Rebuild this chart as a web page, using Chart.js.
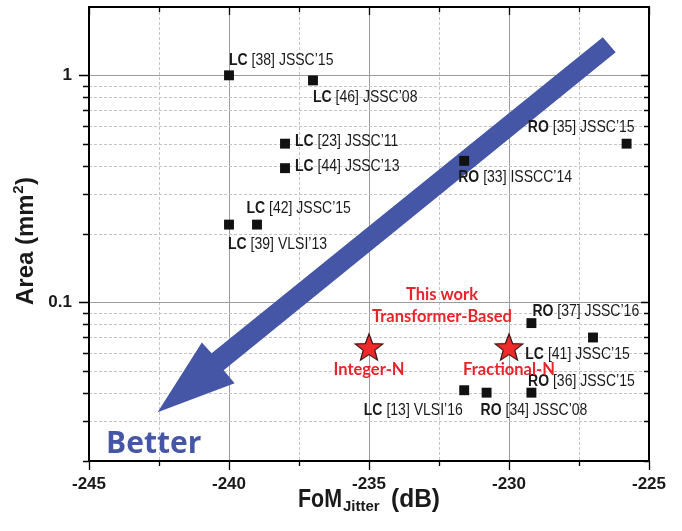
<!DOCTYPE html>
<html><head><meta charset="utf-8">
<script src="https://cdn.jsdelivr.net/npm/chart.js@4.4.1/dist/chart.umd.min.js"></script>
<style>html,body{margin:0;padding:0;background:#fff;}#wrap{width:682px;height:531px;position:relative;}</style>
</head><body><div id="wrap"><canvas id="c" width="682" height="531"></canvas></div>
<script>
// ---------- data ----------
const refTech = ['LC','LC','LC','LC','RO','RO','LC','LC','RO','LC','LC','RO','RO'];
const refCite = ["[38] JSSC\u201915","[46] JSSC\u201908","[23] JSSC\u201911","[44] JSSC\u201913","[33] ISSCC\u201914","[35] JSSC\u201915","[42] JSSC\u201915","[39] VLSI\u201913","[37] JSSC\u201916","[41] JSSC\u201915","[13] VLSI\u201916","[34] JSSC\u201908","[36] JSSC\u201915"];
const refFoM  = [-240, -237, -238, -238, -231.6, -225.8, -239, -240, -229.2, -227, -231.6, -230.8, -229.2];
const refArea = [1.0, 0.95, 0.5, 0.39, 0.42, 0.5, 0.22, 0.22, 0.081, 0.07, 0.041, 0.040, 0.040];
const workLabels = ['Integer-N', 'Fractional-N'];
const workFoM  = [-235, -230];
const workArea = [0.063, 0.063];
const workTitle = ['This work', 'Transformer-Based'];
const xTickLabels = [-245, -240, -235, -230, -225];
const yTickLabels = [0.1, 1];
// "Better" arrow outline, in data units (FoM, area)
const arrowFoM  = [-242.55, -240.97, -240.62, -226.65, -226.19, -240.19, -239.80];
const arrowArea = [0.0328, 0.0666, 0.0596, 1.47, 1.263, 0.0502, 0.0440];

// ---------- styles / placement (pixels) ----------
const labelPlace = [
  [0,-15,'left'],[0,17,'left'],[10,-2,'left'],[10,-2,'left'],[-6,17,'left'],[8,-16,'right'],
  [-10.6,-16,'left'],[-1,20,'left'],[1,-12,'left'],[-67.7,16.6,'left'],[-1.4,20,'right'],[-6,18,'left'],[-3.4,-11.7,'left']
];
const FONT = "'Liberation Sans', Arial, sans-serif";
const RED = '#e8242b';
const BLUE = '#4656a6';

function starImage(){
  const c = document.createElement('canvas');
  c.width = 32; c.height = 32;
  const g = c.getContext('2d');
  const cx = 16, cy = 16.5, R = 14.5, r = 6.1;
  g.beginPath();
  for (let i = 0; i < 10; i++){
    const ang = -Math.PI/2 + i*Math.PI/5;
    const rad = i%2 ? r : R;
    const px = cx + rad*Math.cos(ang), py = cy + rad*Math.sin(ang);
    i ? g.lineTo(px,py) : g.moveTo(px,py);
  }
  g.closePath();
  g.fillStyle = '#ee2a2a'; g.fill();
  g.lineWidth = 1.2; g.strokeStyle = '#3a1515'; g.stroke();
  return c;
}

function isMajorLog(v){ return Math.abs(Math.log10(v) - Math.round(Math.log10(v))) < 1e-6; }
// keep only 1..9 x 10^n ticks strictly inside the axis range
function logGridValues(y){
  return y.ticks.map(t => t.value).filter(v => {
    if (v <= y.min*1.0001 || v >= y.max*0.9999) return false;
    const e = Math.floor(Math.log10(v) + 1e-9);
    const s = v / Math.pow(10, e);
    return Math.abs(s - Math.round(s)) < 1e-6 && v <= 1.0001;
  });
}

function drawNarrowLabel(ctx, x, y, bold, rest, align){
  const size = 16.5, sx = 0.85;
  ctx.save();
  ctx.textBaseline = 'middle';
  ctx.fillStyle = '#1a1a1a';
  ctx.font = `bold ${size}px ${FONT}`;
  const wb = ctx.measureText(bold + ' ').width;
  ctx.font = `${size}px ${FONT}`;
  const wr = ctx.measureText(rest).width;
  const total = (wb + wr) * sx;
  const x0 = align === 'right' ? x - total : x;
  ctx.translate(x0, y);
  ctx.scale(sx, 1);
  ctx.textAlign = 'left';
  ctx.font = `bold ${size}px ${FONT}`;
  ctx.fillText(bold, 0, 0);
  ctx.font = `${size}px ${FONT}`;
  ctx.fillText(rest, wb, 0);
  ctx.restore();
}

const deco = {
  id: 'deco',
  beforeDatasetsDraw(chart){
    const {ctx, chartArea: a, scales: {x, y}} = chart;
    ctx.save();
    // vertical grid
    for (let v = x.min + 2.5; v < x.max - 1e-9; v += 2.5){
      const px = Math.round(x.getPixelForValue(v)) + 0.5;
      const major = Math.abs(v/5 - Math.round(v/5)) < 1e-9;
      ctx.beginPath();
      ctx.setLineDash(major ? [] : [3,2]);
      ctx.strokeStyle = major ? '#9c9c9c' : '#c4c4c4';
      ctx.lineWidth = 1;
      ctx.moveTo(px, a.top); ctx.lineTo(px, a.bottom); ctx.stroke();
    }
    // horizontal grid
    logGridValues(y).forEach(v => {
      const py = Math.round(y.getPixelForValue(v)) + 0.5;
      const major = isMajorLog(v);
      ctx.beginPath();
      ctx.setLineDash(major ? [] : [3,2]);
      ctx.strokeStyle = major ? '#9c9c9c' : '#c4c4c4';
      ctx.lineWidth = 1;
      ctx.moveTo(a.left, py); ctx.lineTo(a.right, py); ctx.stroke();
    });
    ctx.setLineDash([]);
    // arrow
    ctx.beginPath();
    arrowFoM.forEach((f, i) => {
      const px = x.getPixelForValue(f), py = y.getPixelForValue(arrowArea[i]);
      i ? ctx.lineTo(px, py) : ctx.moveTo(px, py);
    });
    ctx.closePath();
    ctx.fillStyle = BLUE;
    ctx.fill();
    ctx.restore();
  },
  afterDatasetsDraw(chart){
    const {ctx, chartArea: a, scales: {x, y}} = chart;
    ctx.save();
    // reference labels
    const meta = chart.getDatasetMeta(0);
    meta.data.forEach((pt, i) => {
      const [dx, dy, al] = labelPlace[i];
      drawNarrowLabel(ctx, pt.x + dx, pt.y + dy, refTech[i], refCite[i], al);
    });
    // this work labels
    const m2 = chart.getDatasetMeta(1);
    ctx.fillStyle = RED;
    ctx.textAlign = 'center';
    ctx.textBaseline = 'middle';
    ctx.font = `bold 16.5px Lato, 'Open Sans', sans-serif`;
    m2.data.forEach((pt, i) => {
      ctx.fillText(workLabels[i], pt.x, pt.y + 22);
    });
    const midX = (m2.data[0].x + m2.data[1].x) / 2 + 3;
    const topY = m2.data[0].y;
    ctx.fillText(workTitle[0], midX, topY - 53);
    ctx.fillText(workTitle[1], midX, topY - 31);
    // Better
    ctx.fillStyle = BLUE;
    ctx.textAlign = 'left';
    ctx.textBaseline = 'alphabetic';
    ctx.font = `bold 30px 'Open Sans', Lato, sans-serif`;
    ctx.fillText('Better', a.left + 17, a.bottom - 8);
    // frame
    ctx.strokeStyle = '#000';
    ctx.lineWidth = 2;
    ctx.strokeRect(a.left, a.top, a.right - a.left, a.bottom - a.top);
    ctx.lineWidth = 1.3;
    ctx.beginPath();
    for (let v = x.min; v <= x.max + 1e-9; v += 2.5){
      const px = Math.round(x.getPixelForValue(v)) + 0.5;
      const major = Math.abs(v/5 - Math.round(v/5)) < 1e-9;
      const L = major ? 9 : 5;
      ctx.moveTo(px, a.bottom); ctx.lineTo(px, a.bottom + L);
      ctx.moveTo(px, a.top); ctx.lineTo(px, a.top + (major ? 8 : 5));
    }
    [y.min].concat(logGridValues(y)).forEach(v => {
      const py = Math.round(y.getPixelForValue(v)) + 0.5;
      const major = isMajorLog(v);
      ctx.moveTo(a.left, py); ctx.lineTo(a.left - (major ? 10 : 6), py);
      ctx.moveTo(a.right, py); ctx.lineTo(a.right - (major ? 8 : 5), py);
    });
    ctx.stroke();
    ctx.restore();
  },
  afterDraw(chart){
    const {ctx, chartArea: a} = chart;
    ctx.save();
    ctx.fillStyle = '#1a1a1a';
    ctx.textBaseline = 'alphabetic';
    ctx.textAlign = 'left';
    // x title: FoM_Jitter (dB)
    const cx = (a.left + a.right) / 2;
    const by = 506.5;
    ctx.font = `bold 25px ${FONT}`;
    ctx.fillText('FoM', cx - 71, by, 44);
    ctx.font = `bold 15px ${FONT}`;
    ctx.fillText('Jitter', cx - 26, by + 4.5, 37);
    ctx.font = `bold 25px ${FONT}`;
    ctx.fillText('(dB)', cx + 22, by, 49);
    // y title: Area (mm2)
    ctx.translate(33, 241);
    ctx.rotate(-Math.PI/2);
    ctx.font = `bold 24px ${FONT}`;
    const p1 = 'Area (mm', p3 = ')';
    const w1 = ctx.measureText(p1).width, w3 = ctx.measureText(p3).width;
    ctx.font = `bold 15px ${FONT}`;
    const w2 = ctx.measureText('2').width;
    const tot = w1 + w2 + w3 + 1;
    let sx = -tot/2;
    ctx.font = `bold 24px ${FONT}`;
    ctx.fillText(p1, sx, 0);
    ctx.font = `bold 15px ${FONT}`;
    ctx.fillText('2', sx + w1 + 0.5, -10);
    ctx.font = `bold 24px ${FONT}`;
    ctx.fillText(p3, sx + w1 + w2 + 1, 0);
    ctx.restore();
  }
};

const refPoints = refFoM.map((f, i) => ({x: f, y: refArea[i]}));
const workPoints = workFoM.map((f, i) => ({x: f, y: workArea[i]}));

new Chart(document.getElementById('c'), {
  type: 'scatter',
  data: {
    datasets: [
      {label: 'Prior art', data: refPoints, pointStyle: 'rect', pointRadius: 7, pointHoverRadius: 7,
       backgroundColor: '#111', borderColor: '#111', borderWidth: 0},
      {label: 'This work', data: workPoints, pointStyle: starImage(), pointRadius: 14}
    ]
  },
  options: {
    responsive: false,
    animation: false,
    events: [],
    layout: {autoPadding: false, padding: {top: 7, right: 33, left: 0, bottom: 0}},
    plugins: {legend: {display: false}, tooltip: {enabled: false}, title: {display: false}},
    scales: {
      x: {
        type: 'linear', position: 'bottom', min: -245, max: -225,
        afterFit(s){ s.height = 70; s.paddingLeft = 0; s.paddingRight = 0; },
        grid: {display: false, drawTicks: false},
        border: {display: false},
        ticks: {
          stepSize: 5, autoSkip: false, maxRotation: 0, padding: 13,
          color: '#1a1a1a', font: {family: FONT, weight: 'bold', size: 17},
          callback: v => xTickLabels.includes(v) ? String(v) : ''
        }
      },
      y: {
        type: 'logarithmic', position: 'left', min: 0.02, max: 2,
        afterFit(s){ s.width = 89; s.paddingTop = 0; s.paddingBottom = 0; },
        grid: {display: false, drawTicks: false},
        border: {display: false},
        ticks: {
          autoSkip: false, padding: 17,
          color: '#1a1a1a', font: {family: FONT, weight: 'bold', size: 17},
          callback: v => {
            const m = yTickLabels.find(l => Math.abs(Math.log10(v) - Math.log10(l)) < 1e-6);
            return m === undefined ? '' : String(m);
          }
        }
      }
    }
  },
  plugins: [deco]
});
</script>
</body></html>
